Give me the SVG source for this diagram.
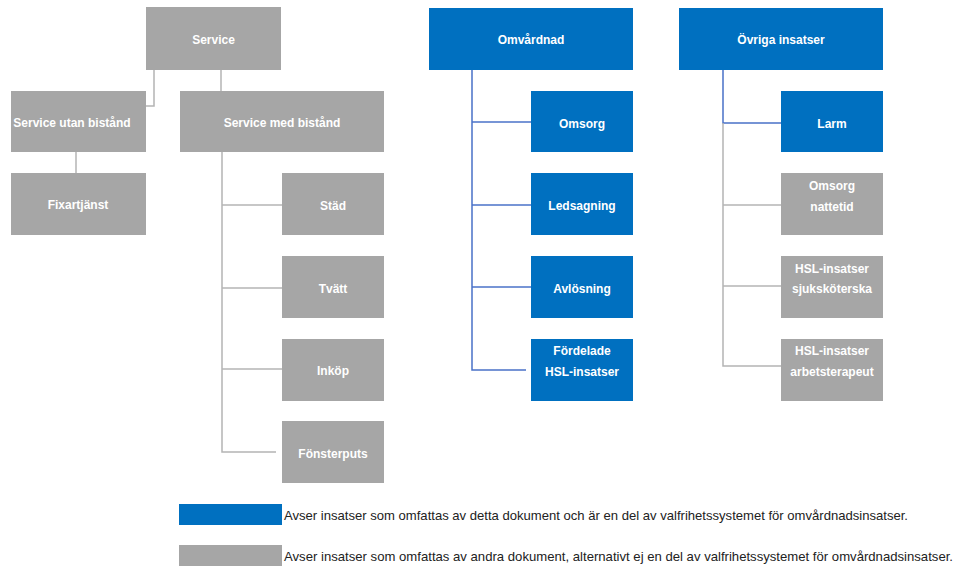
<svg xmlns="http://www.w3.org/2000/svg" width="955" height="566" viewBox="0 0 955 566">
<style>
.b{fill:#0070C0}
.g{fill:#A6A6A6}
.t{font-family:"Liberation Sans",Arial,sans-serif;font-weight:bold;font-size:12px;fill:#FFFFFF;text-anchor:middle}
.lg{font-family:"Liberation Sans",Arial,sans-serif;font-size:13px;fill:#222222}
.cg{stroke:#B4B4B4;stroke-width:1.5;fill:none}
.cb{stroke:#4A72C8;stroke-width:1.5;fill:none}
</style>
<rect width="955" height="566" fill="#FFFFFF"/>
<g id="connectors">
<path class="cg" d="M154,70 V106 H146"/>
<path class="cg" d="M221,70 V91"/>
<path class="cg" d="M76,152 V173"/>
<path class="cg" d="M222,152 V452 H276"/>
<path class="cg" d="M222,205 H282"/>
<path class="cg" d="M222,288 H282"/>
<path class="cg" d="M222,369 H282"/>
<path class="cb" d="M472,70 V370 H526"/>
<path class="cb" d="M472,122 H531"/>
<path class="cb" d="M472,205 H531"/>
<path class="cb" d="M472,287 H531"/>
<path class="cb" d="M723,70 V123 H781"/>
<path class="cg" d="M723,123 V366 H781"/>
<path class="cg" d="M723,205 H781"/>
<path class="cg" d="M723,286 H781"/>
</g>
<g id="service"><rect class="g" x="146" y="7" width="135" height="63"/><text class="t" x="213.5" y="44">Service</text></g>
<g id="service-utan"><rect class="g" x="11" y="91" width="135" height="61"/><text class="t" x="72" y="127">Service utan bistånd</text></g>
<g id="service-med"><rect class="g" x="180" y="91" width="204" height="61"/><text class="t" x="282" y="127">Service med bistånd</text></g>
<g id="fixartjanst"><rect class="g" x="11" y="173" width="135" height="62"/><text class="t" x="78" y="209">Fixartjänst</text></g>
<g id="stad"><rect class="g" x="282" y="173" width="102" height="62"/><text class="t" x="333" y="209.5">Städ</text></g>
<g id="tvatt"><rect class="g" x="282" y="256" width="102" height="62"/><text class="t" x="333" y="292.5">Tvätt</text></g>
<g id="inkop"><rect class="g" x="282" y="339" width="102" height="62"/><text class="t" x="333" y="375">Inköp</text></g>
<g id="fonsterputs"><rect class="g" x="282" y="421" width="102" height="62"/><text class="t" x="333" y="458">Fönsterputs</text></g>
<g id="omvardnad"><rect class="b" x="429" y="8" width="204" height="62"/><text class="t" x="531" y="44">Omvårdnad</text></g>
<g id="omsorg"><rect class="b" x="531" y="91" width="102" height="61"/><text class="t" x="582" y="127.5">Omsorg</text></g>
<g id="ledsagning"><rect class="b" x="531" y="173" width="102" height="62"/><text class="t" x="582" y="210">Ledsagning</text></g>
<g id="avlosning"><rect class="b" x="531" y="256" width="102" height="62"/><text class="t" x="582" y="293">Avlösning</text></g>
<g id="fordelade"><rect class="b" x="531" y="339" width="102" height="62"/><text class="t" x="582" y="355">Fördelade</text><text class="t" x="582" y="375.5">HSL-insatser</text></g>
<g id="ovriga"><rect class="b" x="679" y="8" width="204" height="62"/><text class="t" x="781" y="44">Övriga insatser</text></g>
<g id="larm"><rect class="b" x="781" y="91" width="102" height="61"/><text class="t" x="832" y="127.5">Larm</text></g>
<g id="omsorg-nattetid"><rect class="g" x="781" y="173" width="102" height="62"/><text class="t" x="832" y="190">Omsorg</text><text class="t" x="832" y="211">nattetid</text></g>
<g id="hsl-sjukskoterska"><rect class="g" x="781" y="256" width="102" height="62"/><text class="t" x="832" y="273">HSL-insatser</text><text class="t" x="832" y="293">sjuksköterska</text></g>
<g id="hsl-arbetsterapeut"><rect class="g" x="781" y="339" width="102" height="62"/><text class="t" x="832" y="355">HSL-insatser</text><text class="t" x="832" y="375.5">arbetsterapeut</text></g>
<g id="legend">
<rect class="b" x="179" y="504" width="103" height="21"/>
<text class="lg" x="284" y="520" textLength="624" lengthAdjust="spacingAndGlyphs">Avser insatser som omfattas av detta dokument och är en del av valfrihetssystemet för omvårdnadsinsatser.</text>
<rect class="g" x="179" y="545" width="103" height="21"/>
<text class="lg" x="284" y="561" textLength="669" lengthAdjust="spacingAndGlyphs">Avser insatser som omfattas av andra dokument, alternativt ej en del av valfrihetssystemet för omvårdnadsinsatser.</text>
</g>
</svg>
